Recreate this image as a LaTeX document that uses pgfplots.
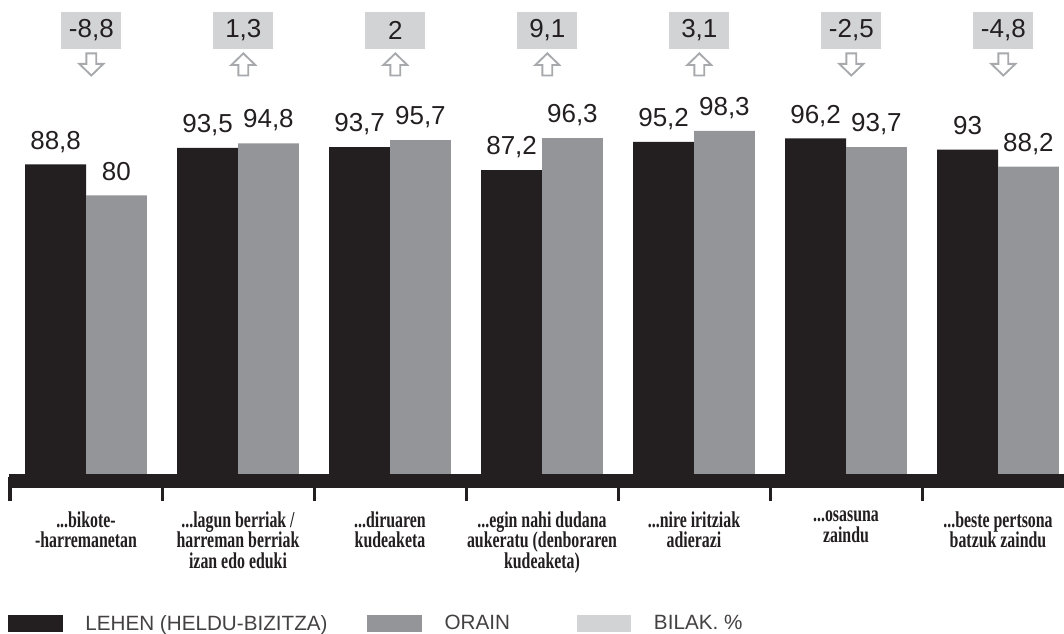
\documentclass[border=0pt]{standalone}
\usepackage{pgfplots}
\pgfplotsset{compat=1.18}
\usepackage{fontspec}
\setmainfont{Liberation Sans}
\newfontfamily\cond[FakeStretch=0.70]{Liberation Serif}
\newcommand\dd{.\kern0pt.\kern0pt.}
\definecolor{barblack}{HTML}{231F20}
\definecolor{bargray}{HTML}{939598}
\definecolor{boxgray}{HTML}{D1D3D4}
\definecolor{arrowgray}{HTML}{A7A9AC}
\pgfdeclareplotmark{uparr}{%
  \pgfpathmoveto{\pgfqpoint{0pt}{8.3pt}}%
  \pgfpathlineto{\pgfqpoint{9pt}{-0.4pt}}%
  \pgfpathlineto{\pgfqpoint{3.7pt}{-0.4pt}}%
  \pgfpathlineto{\pgfqpoint{3.7pt}{-8.3pt}}%
  \pgfpathlineto{\pgfqpoint{-3.7pt}{-8.3pt}}%
  \pgfpathlineto{\pgfqpoint{-3.7pt}{-0.4pt}}%
  \pgfpathlineto{\pgfqpoint{-9pt}{-0.4pt}}%
  \pgfpathclose
  \pgfusepathqfillstroke}
\pgfdeclareplotmark{downarr}{%
  \pgfpathmoveto{\pgfqpoint{0pt}{-8.3pt}}%
  \pgfpathlineto{\pgfqpoint{9pt}{0.4pt}}%
  \pgfpathlineto{\pgfqpoint{3.7pt}{0.4pt}}%
  \pgfpathlineto{\pgfqpoint{3.7pt}{8.3pt}}%
  \pgfpathlineto{\pgfqpoint{-3.7pt}{8.3pt}}%
  \pgfpathlineto{\pgfqpoint{-3.7pt}{0.4pt}}%
  \pgfpathlineto{\pgfqpoint{-9pt}{0.4pt}}%
  \pgfpathclose
  \pgfusepathqfillstroke}
\pgfplotsset{sw/.style={legend image code/.code={\fill[##1] (0pt,-6.4pt) rectangle (41pt,6.4pt);}}}
\pgfplotstableread{
x lehen orain
0 88.8 80
1 93.5 94.8
2 93.7 95.7
3 87.2 96.3
4 95.2 98.3
5 96.2 93.7
6 93 88.2
}\data
\pgfplotstableread{
x y d
0 126.85 -8.8
1 126.85 1.3
2 126.85 2
3 126.85 9.1
4 126.85 3.1
5 126.85 -2.5
6 126.85 -4.8
}\diffs
\begin{document}
\begin{tikzpicture}
\path[use as bounding box] (-7.5pt,-117pt) rectangle (790.5pt,357.75pt);
\begin{axis}[
  at={(0,0)}, anchor=south west,
  scale only axis, width=798pt, height=264pt,
  xmin=-0.5, xmax=6.5, ymin=0, ymax=100,
  clip=false,
  axis line style={draw=none},
  ytick=\empty,
  xtick={0,1,2,3,4,5,6},
  xtick pos=left,
  major tick length=0pt,
  xticklabels={{\dd bikote-\\-harremanetan},
    {\dd lagun berriak /\\harreman berriak\\izan edo eduki},
    {\dd diruaren\\kudeaketa},
    {\dd egin nahi dudana\\aukeratu (denboraren\\kudeaketa)},
    {\dd nire iritziak\\adierazi},
    {\dd osasuna\\zaindu},
    {\dd beste pertsona\\batzuk zaindu}},
  xticklabel style={font=\cond\bfseries\fontsize{17}{15.6}\selectfont, align=center, text=barblack, inner sep=0pt, anchor=north, yshift=-25.5pt},
  extra x ticks={-0.5,0.5,1.5,2.5,3.5,4.5,5.5},
  extra x tick labels={},
  extra x tick style={major tick length=18pt, tick align=outside, tick style={line width=2.25pt, color=barblack}},
  /pgf/number format/.cd, use comma, fixed, precision=1, assume math mode=true, /pgfplots/.cd,
  legend style={draw=none, fill=none, at={(axis description cs:0,0)}, anchor=west, xshift=-1.5pt, yshift=-110pt,
    inner sep=0pt, outer sep=0pt, font=\fontsize{15.5}{18}\selectfont, text=barblack!85,
    nodes={inner sep=0pt, anchor=west},
    /tikz/every odd column/.append style={column sep=17pt},
    /tikz/every even column/.append style={column sep=0pt}},
  legend columns=3,
  legend cell align=left,
]
\addplot[ybar, bar width=0.4, bar shift=-0.2, fill=barblack, draw=none, sw,
  nodes near coords,
  every node near coord/.append style={font=\fontsize{19.5}{22}\selectfont, text=barblack, anchor=base, xshift=-22.8pt, yshift=11.5pt, inner sep=0pt}]
  table[x=x, y=lehen] {\data};
\addlegendentry{\makebox[211.5pt][l]{LEHEN (HELDU-BIZITZA)}}
\addplot[ybar, bar width=0.4, bar shift=0.2, fill=bargray, draw=none, sw,
  nodes near coords,
  every node near coord/.append style={font=\fontsize{19.5}{22}\selectfont, text=barblack, anchor=base, xshift=22.8pt, yshift=11.5pt, inner sep=0pt}]
  table[x=x, y=orain] {\data};
\addlegendentry{\makebox[99pt][l]{ORAIN}}
\addlegendimage{sw, fill=boxgray, draw=none}
\addlegendentry{BILAK. \%}
\addplot[draw=none, mark=none, forget plot, point meta=explicit,
  nodes near coords,
  every node near coord/.append style={font=\fontsize{19.5}{22}\selectfont, text=barblack, fill=boxgray, anchor=center, xshift=4pt, minimum width=45pt, minimum height=27.75pt, inner sep=0pt}]
  table[x=x, y=y, meta=d] {\diffs};
\addplot[only marks, mark=uparr, forget plot, mark options={draw=arrowgray, fill=white, line width=1.4pt, xshift=4pt}]
  coordinates {(1,117.2) (2,117.2) (3,117.2) (4,117.2)};
\addplot[only marks, mark=downarr, forget plot, mark options={draw=arrowgray, fill=white, line width=1.4pt, xshift=4pt}]
  coordinates {(0,117.2) (5,117.2) (6,117.2)};
\fill[barblack] (axis cs:-0.507,0.85) rectangle (axis cs:6.7,-3.1);
\end{axis}
\end{tikzpicture}
\end{document}
